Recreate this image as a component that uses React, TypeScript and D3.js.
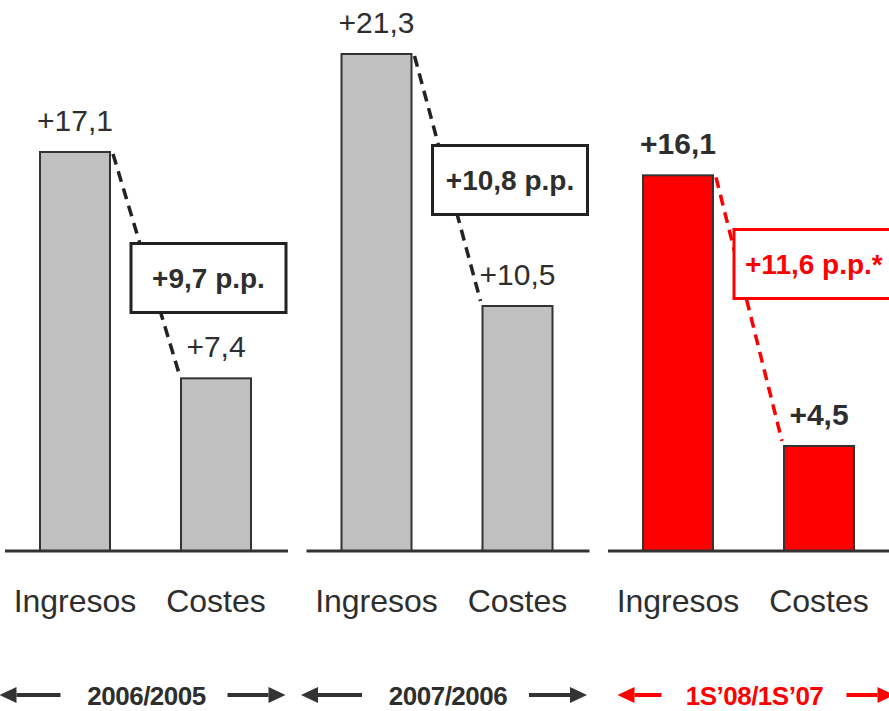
import React from "react";
import * as d3 from "d3";

// Growth comparison: revenue vs. cost growth (%) per period
const periods = ["2006/2005", "2007/2006", "1S\u201908/1S\u201907"];
const categories = ["Ingresos", "Costes"];
const ingresos = [17.1, 21.3, 16.1];
const costes = [7.4, 10.5, 4.5];
const valueLabels = [
  ["+17,1", "+7,4"],
  ["+21,3", "+10,5"],
  ["+16,1", "+4,5"],
];
const gapLabels = ["+9,7 p.p.", "+10,8 p.p.", "+11,6 p.p.*"];
const highlighted = [false, false, true];

const W = 889;
const H = 711;
const BASE = 551;
const TOP = 54;
const PANEL_W = 283;
const BAR_W = 70;
// vertical level (in % units) where the gap annotation box sits
const gapLevels = [11.7, 15.9, 12.3];

const DARK = "#2e2e2e";
const RED = "#ff0000";
const GREY = "#c0c0c0";
const FONT = "'Liberation Sans', Arial, Helvetica, sans-serif";

export default function App() {
  const y = d3.scaleLinear().domain([0, 21.3]).range([BASE, TOP]);
  const panel = d3
    .scaleBand<string>()
    .domain(periods)
    .range([5, 5 + 3 * 301.5])
    .paddingInner(0);
  const inner = d3
    .scalePoint<string>()
    .domain(categories)
    .range([70, 211]);
  const dash = d3.line<[number, number]>();

  const arrow = (x1: number, x2: number, yy: number, color: string, key: string) => {
    const dir = Math.sign(x2 - x1);
    const head = 17;
    return (
      <g key={key}>
        <line
          x1={x1}
          x2={x2 - dir * head}
          y1={yy}
          y2={yy}
          stroke={color}
          strokeWidth={4}
        />
        <path
          d={`M${x2},${yy} L${x2 - dir * head},${yy - 8} L${x2 - dir * head},${yy + 8} Z`}
          fill={color}
        />
      </g>
    );
  };

  return (
    <svg
      width={W}
      height={H}
      viewBox={`0 0 ${W} ${H}`}
      style={{ position: "absolute", left: 0, top: 0, background: "#fff" }}
      fontFamily={FONT}
    >
      {periods.map((p, i) => {
        const x0 = panel(p)!;
        const hi = highlighted[i];
        const vals = [ingresos[i], costes[i]];
        const xs = categories.map((c) => x0 + inner(c)!);
        const lineColor = hi ? RED : "#222";
        const boxLeft = x0 + 126;
        const boxW = hi ? 170 : 155;
        const boxH = 69;
        const boxCy = y(gapLevels[i]);
        const textColor = hi ? RED : DARK;
        const cx = x0 + PANEL_W / 2 + (hi ? 5 : 0);
        return (
          <g key={p}>
            {/* connector from revenue bar top to cost bar top */}
            <path
              d={
                dash([
                  [xs[0] + BAR_W / 2 + 3, y(vals[0]) + 2],
                  [xs[1] - BAR_W / 2 - 2, y(vals[1]) - 5],
                ])!
              }
              stroke={lineColor}
              strokeWidth={3.5}
              strokeDasharray="11 7"
              fill="none"
            />
            {vals.map((v, j) => (
              <g key={j}>
                <rect
                  x={xs[j] - BAR_W / 2}
                  y={y(v)}
                  width={BAR_W}
                  height={BASE - y(v)}
                  fill={hi ? RED : GREY}
                  stroke="#333"
                  strokeWidth={2}
                />
                <text
                  x={xs[j]}
                  y={y(v) - 21}
                  textAnchor="middle"
                  fontSize={30}
                  fontWeight={hi ? "bold" : "normal"}
                  fill={DARK}
                >
                  {valueLabels[i][j]}
                </text>
                <text
                  x={xs[j]}
                  y={612}
                  textAnchor="middle"
                  fontSize={32}
                  fill={DARK}
                >
                  {categories[j]}
                </text>
              </g>
            ))}
            {/* baseline */}
            <line
              x1={x0}
              x2={x0 + PANEL_W}
              y1={BASE}
              y2={BASE}
              stroke="#333"
              strokeWidth={3}
            />
            {/* gap annotation */}
            <rect
              x={boxLeft}
              y={boxCy - boxH / 2}
              width={boxW}
              height={boxH}
              fill="#fff"
              stroke={hi ? RED : "#222"}
              strokeWidth={3}
            />
            <text
              x={hi ? boxLeft + 11 : boxLeft + boxW / 2}
              y={boxCy + 10}
              textAnchor={hi ? "start" : "middle"}
              fontSize={28}
              fontWeight="bold"
              fill={textColor}
            >
              {gapLabels[i]}
            </text>
            {/* period label with arrows */}
            <text
              x={cx}
              y={705}
              textAnchor="middle"
              fontSize={26}
              fontWeight="bold"
              fill={textColor}
              letterSpacing={-0.5}
            >
              {p}
            </text>
            {arrow(cx - (hi ? 93 : 86), cx - (hi ? 137 : 147), 695, hi ? RED : "#333", "l")}
            {arrow(cx + (hi ? 92 : 81), cx + (hi ? 140 : 139), 695, hi ? RED : "#333", "r")}
          </g>
        );
      })}
    </svg>
  );
}
